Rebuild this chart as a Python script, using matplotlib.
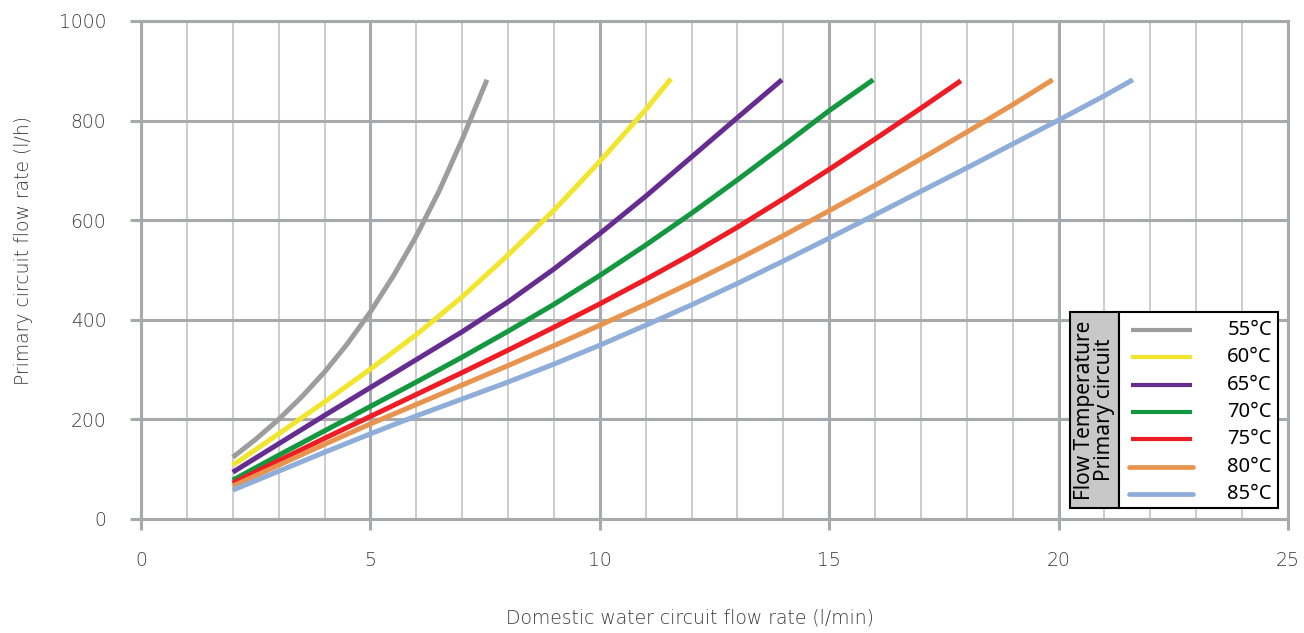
import matplotlib
matplotlib.use("Agg")
import matplotlib.pyplot as plt
from matplotlib.lines import Line2D
from matplotlib.patches import Rectangle
from matplotlib.ticker import MultipleLocator

# values (x = l/min, y = l/h)
x_55 = [2, 2.5, 3, 3.5, 4, 4.5, 5, 5.5, 6, 6.5, 7, 7.54]
y_55 = [124, 160, 200, 245, 295, 352, 416, 488, 568, 659, 762, 882]

x_60 = [2, 3, 4, 5, 6, 7, 8, 9, 10, 11, 11.55]
y_60 = [108, 171, 235, 301, 370, 446, 530, 620, 718, 822, 884]

x_65 = [2, 3, 4, 5, 6, 7, 8, 9, 10, 11, 12, 13, 13.97]
y_65 = [94, 151, 208, 264, 320, 376, 436, 502, 573, 648, 727, 806, 882]

x_70 = [2, 3, 4, 5, 6, 7, 8, 9, 10, 11, 12, 13, 14, 15, 15.96]
y_70 = [78, 128, 177, 226, 275, 325, 377, 431, 489, 550, 614, 681, 750, 820, 882]

x_75 = [2, 3, 4, 5, 6, 7, 8, 9, 10, 11, 12, 13, 14, 15, 16, 17, 17.87]
y_75 = [72, 117, 162, 206, 250, 294, 339, 385, 432, 481, 532, 586, 643, 702, 763, 825, 880]

x_80 = [2, 3, 4, 5, 6, 7, 8, 9, 10, 11, 12, 13, 14, 15, 16, 17, 18, 19, 19.87]
y_80 = [66, 108, 150, 191, 230, 269, 308, 348, 389, 431, 475, 521, 569, 619, 670, 723, 777, 832, 882]

x_85 = [2, 3, 4, 5, 6, 7, 8, 9, 10, 11, 12, 13, 14, 15, 16, 17, 18, 19, 20, 21, 21.62]
y_85 = [58, 96, 134, 171, 207, 241, 275, 311, 349, 389, 430, 473, 518, 564, 611, 658, 705, 753, 801, 850, 882]

labels = ["55°C", "60°C", "65°C", "70°C", "75°C", "80°C", "85°C"]
colors = ["#9d9d9d", "#f2e52e", "#662d91", "#13973f", "#ee1c25", "#e8944f", "#8eadd8"]
series = [(x_55, y_55), (x_60, y_60), (x_65, y_65), (x_70, y_70),
          (x_75, y_75), (x_80, y_80), (x_85, y_85)]

GRID = "#a7a9ac"
MINOR = "#c8c8c8"
TXT = "#3a3a3a"
AXFONT = dict(family=["DejaVu Sans"], weight=200)
LEGFONT = ["Noto Sans", "DejaVu Sans"]

W, H = 1304, 633
L, R, T, B = 141, 1288, 21, 519


def px(xp, yp):
    """pixel position in the figure -> axes fraction (layout only)"""
    return (xp - L) / (R - L), (B - yp) / (B - T)


fig = plt.figure(figsize=(W / 100, H / 100), dpi=100)
ax = fig.add_axes([L / W, 1 - B / H, (R - L) / W, (B - T) / H])

for (xs, ys), c, lab in zip(series, colors, labels):
    ax.plot(xs, ys, color=c, lw=3.6, label=lab, solid_capstyle="butt",
            solid_joinstyle="round", zorder=3)

ax.set_xlim(0, 25)
ax.set_ylim(0, 1000)
ax.xaxis.set_major_locator(MultipleLocator(5))
ax.xaxis.set_minor_locator(MultipleLocator(1))
ax.yaxis.set_major_locator(MultipleLocator(200))

ax.grid(which="major", color=GRID, lw=2.2, zorder=1)
ax.grid(which="minor", axis="x", color=MINOR, lw=1.3, zorder=0)
ax.set_axisbelow(True)
for s in ax.spines.values():
    s.set_color(GRID)
    s.set_linewidth(2.2)

ax.tick_params(which="major", direction="out", length=8, width=2.2, color=GRID,
               labelsize=13.5, labelcolor=TXT)
ax.tick_params(axis="x", which="major", pad=15)
ax.tick_params(axis="y", which="major", pad=17)
ax.tick_params(which="minor", length=0)
for t in ax.get_xticklabels() + ax.get_yticklabels():
    t.set_fontfamily(AXFONT["family"])
    t.set_fontweight(AXFONT["weight"])

ax.set_xlabel("Domestic water circuit flow rate (l/min)", fontsize=13.5,
              color=TXT, **AXFONT)
ax.xaxis.set_label_coords(0.479, -0.179)
ax.set_ylabel("Primary circuit flow rate (l/h)", fontsize=13.5,
              color=TXT, **AXFONT)
ax.yaxis.set_label_coords(-0.094, 0.54)

# legend box drawn by hand: grey title panel + white sample panel
bx0, by1 = px(1070, 508)
bx1, by0 = px(1278, 312)
pxm, _ = px(1119, 0)
by_lo, by_hi = min(by0, by1), max(by0, by1)
ax.add_patch(Rectangle((bx0, by_lo), pxm - bx0, by_hi - by_lo, transform=ax.transAxes,
                       facecolor="#c8c8c8", edgecolor="black", lw=1.5, zorder=7,
                       clip_on=False))
ax.add_patch(Rectangle((pxm, by_lo), bx1 - pxm, by_hi - by_lo, transform=ax.transAxes,
                       facecolor="white", edgecolor="black", lw=1.5, zorder=7,
                       clip_on=False))
ax.text((bx0 + pxm) / 2, (by_lo + by_hi) / 2, "Flow Temperature\nPrimary circuit",
        transform=ax.transAxes, rotation=90, ha="center", va="center",
        multialignment="center", fontsize=15, color="black", zorder=8,
        family=LEGFONT, linespacing=0.92)

row_y = [330, 357, 385, 412, 439, 467, 494]
for i, (c, lab) in enumerate(zip(colors, labels)):
    round_cap = i >= 5
    xa, ya = px(1129 if round_cap else 1131, row_y[i])
    xb, _ = px(1193 if round_cap else 1192, row_y[i])
    ax.add_line(Line2D([xa, xb], [ya, ya], transform=ax.transAxes, color=c,
                       lw=3.4 if round_cap else 3.0,
                       solid_capstyle="round" if round_cap else "butt",
                       zorder=8, clip_on=False))
    tx, _ = px(1272, row_y[i])
    ax.text(tx, ya, lab, transform=ax.transAxes, ha="right", va="center",
            fontsize=14.5, color="black", family=LEGFONT, zorder=8)

fig.savefig("out.png", dpi=100, facecolor="white")
